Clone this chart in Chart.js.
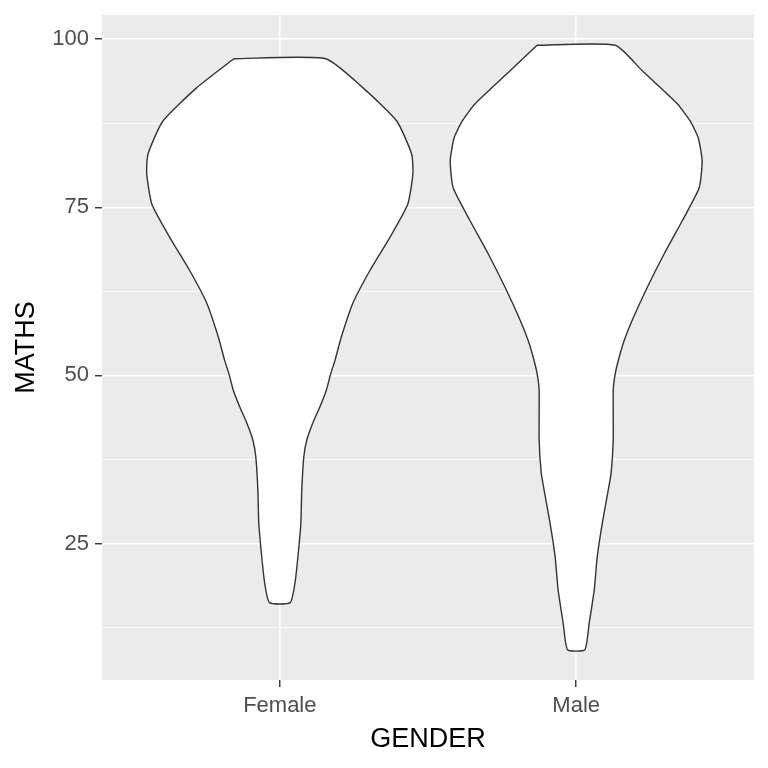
<!DOCTYPE html>
<html>
<head>
<meta charset="utf-8">
<script src="https://cdn.jsdelivr.net/npm/chart.js@4/dist/chart.umd.min.js"></script>
<style>
  html, body { margin: 0; padding: 0; background: #fff; }
  #wrap { width: 768px; height: 768px; }
</style>
</head>
<body>
<div id="wrap"><canvas id="violinChart" width="768" height="768"></canvas></div>
<script>
// categories on the x axis
const categories = ['Female', 'Male'];

// violin outlines: MATHS level and half width (in category units) at that level
const femaleLevels    = [97.1, 92.8, 87.8, 82.9, 80.0, 75.5, 70.5, 65.6, 60.7, 55.5, 52.2, 50.3, 47.8, 45.3, 42.9, 40.4, 37.9, 32.9, 28.0, 23.0, 19.1, 16.2];
const femaleHalfWidth = [0.155, 0.280, 0.395, 0.445, 0.449, 0.432, 0.371, 0.304, 0.246, 0.206, 0.186, 0.172, 0.157, 0.135, 0.111, 0.091, 0.081, 0.074, 0.071, 0.061, 0.051, 0.035];

const maleLevels    = [99.1, 95.3, 90.4, 87.8, 85.3, 81.9, 77.9, 73.0, 68.1, 63.1, 58.2, 55.2, 52.7, 50.3, 47.8, 40.4, 35.5, 32.9, 28.0, 23.0, 18.1, 13.2, 9.2];
const maleHalfWidth = [0.132, 0.223, 0.341, 0.385, 0.412, 0.425, 0.415, 0.358, 0.297, 0.240, 0.189, 0.162, 0.145, 0.132, 0.125, 0.125, 0.118, 0.108, 0.088, 0.071, 0.061, 0.044, 0.029];

// y axis ticks (labelled) and minor grid positions
const yTicks = [25, 50, 75, 100];
const yMinor = [12.5, 37.5, 62.5, 87.5];

const FONT = "'Liberation Sans', Arial, sans-serif";

// build a closed outline: down the left side, back up the right side
function violinPoints(center, levels, halfWidth) {
    const left = levels.map((v, i) => ({ x: center - halfWidth[i], y: v }));
    const right = levels.map((v, i) => ({ x: center + halfWidth[i], y: v })).reverse();
    const pts = left.concat(right);
    pts.push(pts[0]);
    return pts;
}

const panelBg = {
    id: 'panelBg',
    beforeDraw(chart) {
        const { ctx, chartArea: a } = chart;
        ctx.save();
        ctx.fillStyle = '#EBEBEB';
        ctx.fillRect(a.left, a.top, a.right - a.left, a.bottom - a.top);
        ctx.restore();
    }
};

function violinDataset(label, center, levels, halfWidth) {
    return {
        label: label,
        data: violinPoints(center, levels, halfWidth),
        showLine: true,
        fill: 'shape',
        backgroundColor: '#FFFFFF',
        borderColor: '#333333',
        borderWidth: 1.4,
        pointRadius: 0,
        tension: 0.18
    };
}

new Chart(document.getElementById('violinChart'), {
    type: 'scatter',
    data: {
        datasets: [
            violinDataset('Female', 1, femaleLevels, femaleHalfWidth),
            violinDataset('Male', 2, maleLevels, maleHalfWidth)
        ]
    },
    plugins: [panelBg],
    options: {
        responsive: false,
        animation: false,
        layout: { padding: { top: 15, right: 14, left: 0, bottom: 0 } },
        plugins: {
            legend: { display: false },
            tooltip: { enabled: false }
        },
        scales: {
            x: {
                type: 'linear',
                min: 0.4,
                max: 2.6,
                afterBuildTicks: (s) => { s.ticks = categories.map((c, i) => ({ value: i + 1 })); },
                afterFit: (s) => { s.height = 88; s.paddingLeft = 0; s.paddingRight = 0; },
                border: { display: false },
                grid: {
                    color: '#FFFFFF',
                    lineWidth: 1.5,
                    tickColor: '#333333',
                    tickWidth: 1.4,
                    tickLength: 7
                },
                ticks: {
                    padding: 6,
                    color: '#4D4D4D',
                    font: { family: FONT, size: 22 },
                    callback: (v) => categories[Math.round(v) - 1]
                },
                title: {
                    display: true,
                    text: 'GENDER',
                    color: '#000000',
                    font: { family: FONT, size: 27 },
                    padding: { top: 0, bottom: 12 }
                }
            },
            y: {
                type: 'linear',
                min: 4.7,
                max: 103.6,
                afterBuildTicks: (s) => {
                    s.ticks = yMinor.concat(yTicks).sort((a, b) => a - b).map(v => ({ value: v }));
                },
                afterFit: (s) => { s.width = 102; s.paddingTop = 0; s.paddingBottom = 0; },
                border: { display: false },
                grid: {
                    color: '#FFFFFF',
                    lineWidth: (c) => (yTicks.includes(c.tick && c.tick.value) ? 1.5 : 0.75),
                    tickColor: (c) => (yTicks.includes(c.tick && c.tick.value) ? '#333333' : 'rgba(0,0,0,0)'),
                    tickWidth: 1.4,
                    tickLength: 7
                },
                ticks: {
                    padding: 6,
                    color: '#4D4D4D',
                    font: { family: FONT, size: 22 },
                    callback: (v) => (yTicks.includes(v) ? String(v) : '')
                },
                title: {
                    display: true,
                    text: 'MATHS',
                    color: '#000000',
                    font: { family: FONT, size: 27 },
                    padding: { top: 10, bottom: 0 }
                }
            }
        }
    }
});
</script>
</body>
</html>
